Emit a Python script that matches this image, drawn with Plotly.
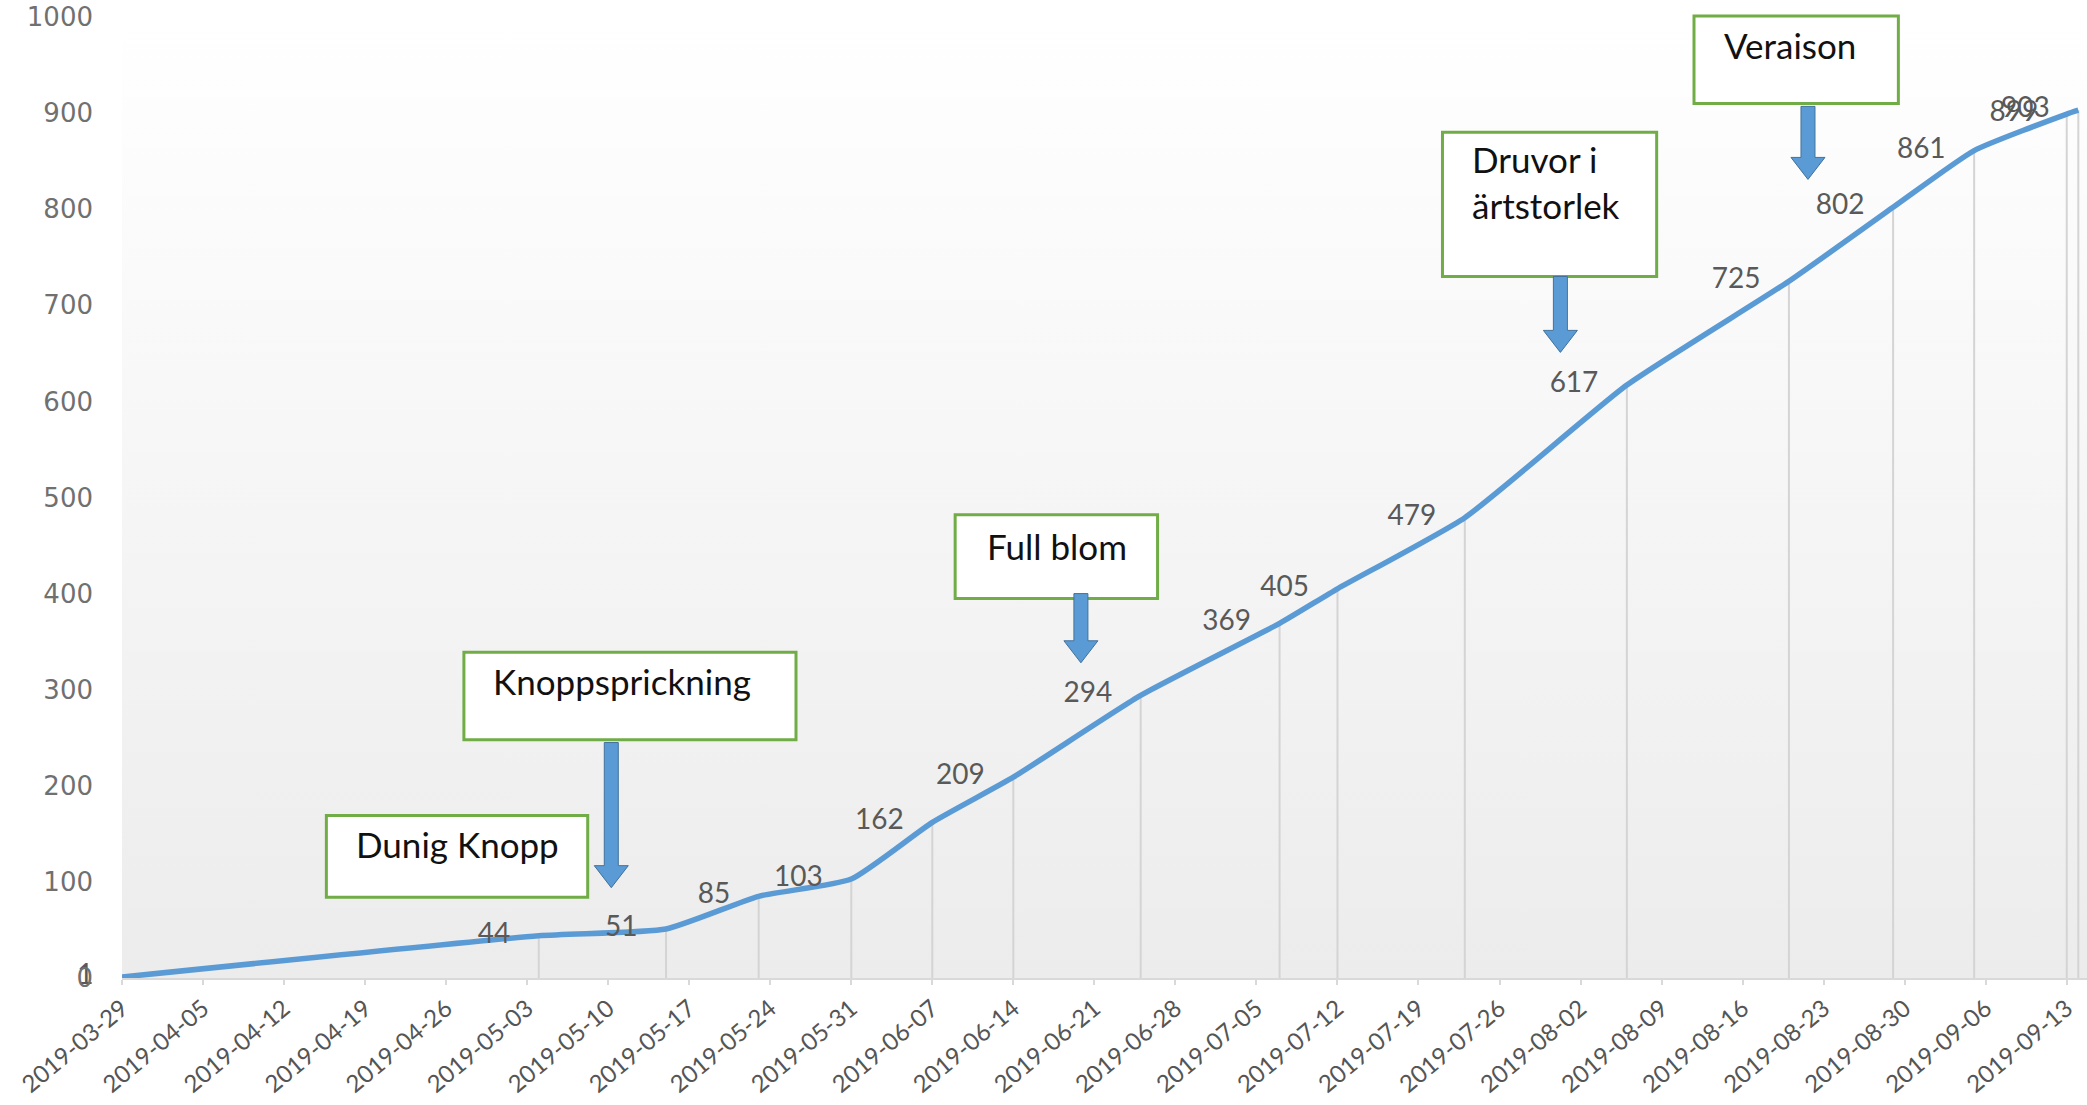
import base64
import plotly.graph_objects as go

# ---- data ----
dates = ["2019-03-29", "2019-05-04", "2019-05-15", "2019-05-23", "2019-05-31",
         "2019-06-07", "2019-06-14", "2019-06-25", "2019-07-07", "2019-07-12",
         "2019-07-23", "2019-08-06", "2019-08-20", "2019-08-29", "2019-09-05",
         "2019-09-13", "2019-09-14"]
values = [1, 44, 51, 85, 103, 162, 209, 294, 369, 405, 479, 617, 725, 802, 861, 899, 903]
value_labels = [str(v) for v in values]

stage_labels = ["Dunig Knopp", "Knoppsprickning", "Full blom", "Druvor i<br>ärtstorlek", "Veraison"]

LINE_BLUE = "#5b9bd5"
GREEN = "#70ad47"
W, H = 2087, 1105
ML, MR, MT, MB = 122, 0, 17, 127
PW, PH = W - ML - MR, H - MT - MB

fig = go.Figure()

# drop lines
dx, dy = [], []
for d, v in zip(dates, values):
    dx += [d, d, None]
    dy += [0, v, None]
fig.add_trace(go.Scatter(x=dx, y=dy, mode="lines",
                         line=dict(color="#d4d4d4", width=2),
                         hoverinfo="skip", showlegend=False))

# main line with labels
fig.add_trace(go.Scatter(x=dates, y=values, mode="lines+markers+text",
                         line=dict(color=LINE_BLUE, width=5.5, shape="spline", smoothing=0.5),
                         marker=dict(size=44, color="rgba(0,0,0,0)"),
                         text=value_labels, textposition="middle left",
                         textfont=dict(family="Lato", size=28, color="#595959"),
                         cliponaxis=False, showlegend=False, hoverinfo="skip"))

# gradient background
svg = ('<svg xmlns="http://www.w3.org/2000/svg" width="100" height="100" preserveAspectRatio="none">'
       '<defs><linearGradient id="g" x1="0" y1="0" x2="0" y2="1">'
       '<stop offset="0" stop-color="#ffffff"/><stop offset="1" stop-color="#ececec"/>'
       '</linearGradient></defs><rect width="100" height="100" fill="url(#g)"/></svg>')
src = "data:image/svg+xml;base64," + base64.b64encode(svg.encode()).decode()
fig.add_layout_image(dict(source=src, xref="paper", yref="paper", x=0, y=1,
                          sizex=1, sizey=1, sizing="stretch", layer="below",
                          xanchor="left", yanchor="top"))

shapes = []
annotations = []

# callout boxes: (x0, x1, y0, y1) in paper, text pos (x, y)
boxes = [
    ((0.104, 0.237, 0.084, 0.169), (0.118, 0.139)),
    ((0.174, 0.343, 0.248, 0.339), (0.188, 0.309)),
    ((0.424, 0.527, 0.395, 0.482), (0.439, 0.450)),
    ((0.672, 0.781, 0.730, 0.880), (0.686, 0.828)),
    ((0.800, 0.904, 0.910, 1.001), (0.814, 0.971)),
]
for ((x0, x1, y0, y1), (tx, ty)), lab in zip(boxes, stage_labels):
    shapes.append(dict(type="rect", xref="paper", yref="paper", x0=x0, x1=x1, y0=y0, y1=y1,
                       fillcolor="white", line=dict(color=GREEN, width=3), layer="above"))
    annotations.append(dict(xref="paper", yref="paper", x=tx, y=ty, text=lab, showarrow=False,
                            xanchor="left", yanchor="middle", align="left",
                            font=dict(family="Lato", size=35, color="#111111")))

# block arrows (x center, y top, y tip) in paper
arrows = [(0.249, 0.245, 0.094), (0.488, 0.400, 0.328), (0.732, 0.730, 0.651), (0.858, 0.907, 0.831)]
sw, hw, hl = 7 / PW, 17 / PW, 22 / PH
for xc, yt, yb in arrows:
    yh = yb + hl
    path = (f"M {xc-sw} {yt} L {xc+sw} {yt} L {xc+sw} {yh} L {xc+hw} {yh} "
            f"L {xc} {yb} L {xc-hw} {yh} L {xc-sw} {yh} Z")
    shapes.append(dict(type="path", xref="paper", yref="paper", path=path,
                       fillcolor=LINE_BLUE, line=dict(color="#41719c", width=1), layer="above"))

fig.update_layout(
    width=W, height=H,
    margin=dict(l=ML, r=MR, t=MT, b=MB, autoexpand=False),
    paper_bgcolor="white", plot_bgcolor="rgba(0,0,0,0)",
    shapes=shapes, annotations=annotations,
    hovermode=False, showlegend=False,
    xaxis=dict(type="date", range=["2019-03-29", "2019-09-14 18:00"], automargin=False,
               tick0="2019-03-29", dtick=7 * 86400000, tickformat="%Y-%m-%d",
               tickangle=-40, showgrid=False, zeroline=False,
               showline=True, linecolor="#d9d9d9", linewidth=2,
               ticks="outside", ticklen=5, tickcolor="#d9d9d9", tickwidth=2,
               tickfont=dict(family="Lato", size=24, color="#555555")),
    yaxis=dict(range=[0, 1000], dtick=100, showgrid=False, zeroline=False, automargin=False,
               showline=False, ticks="", ticklabelstandoff=28,
               tickfont=dict(family="DejaVu Sans", size=26, color="#707070")),
)

fig.write_html("out.html", config={"displayModeBar": False},
               post_script="document.body.style.margin='0';document.body.style.overflow='hidden';")
